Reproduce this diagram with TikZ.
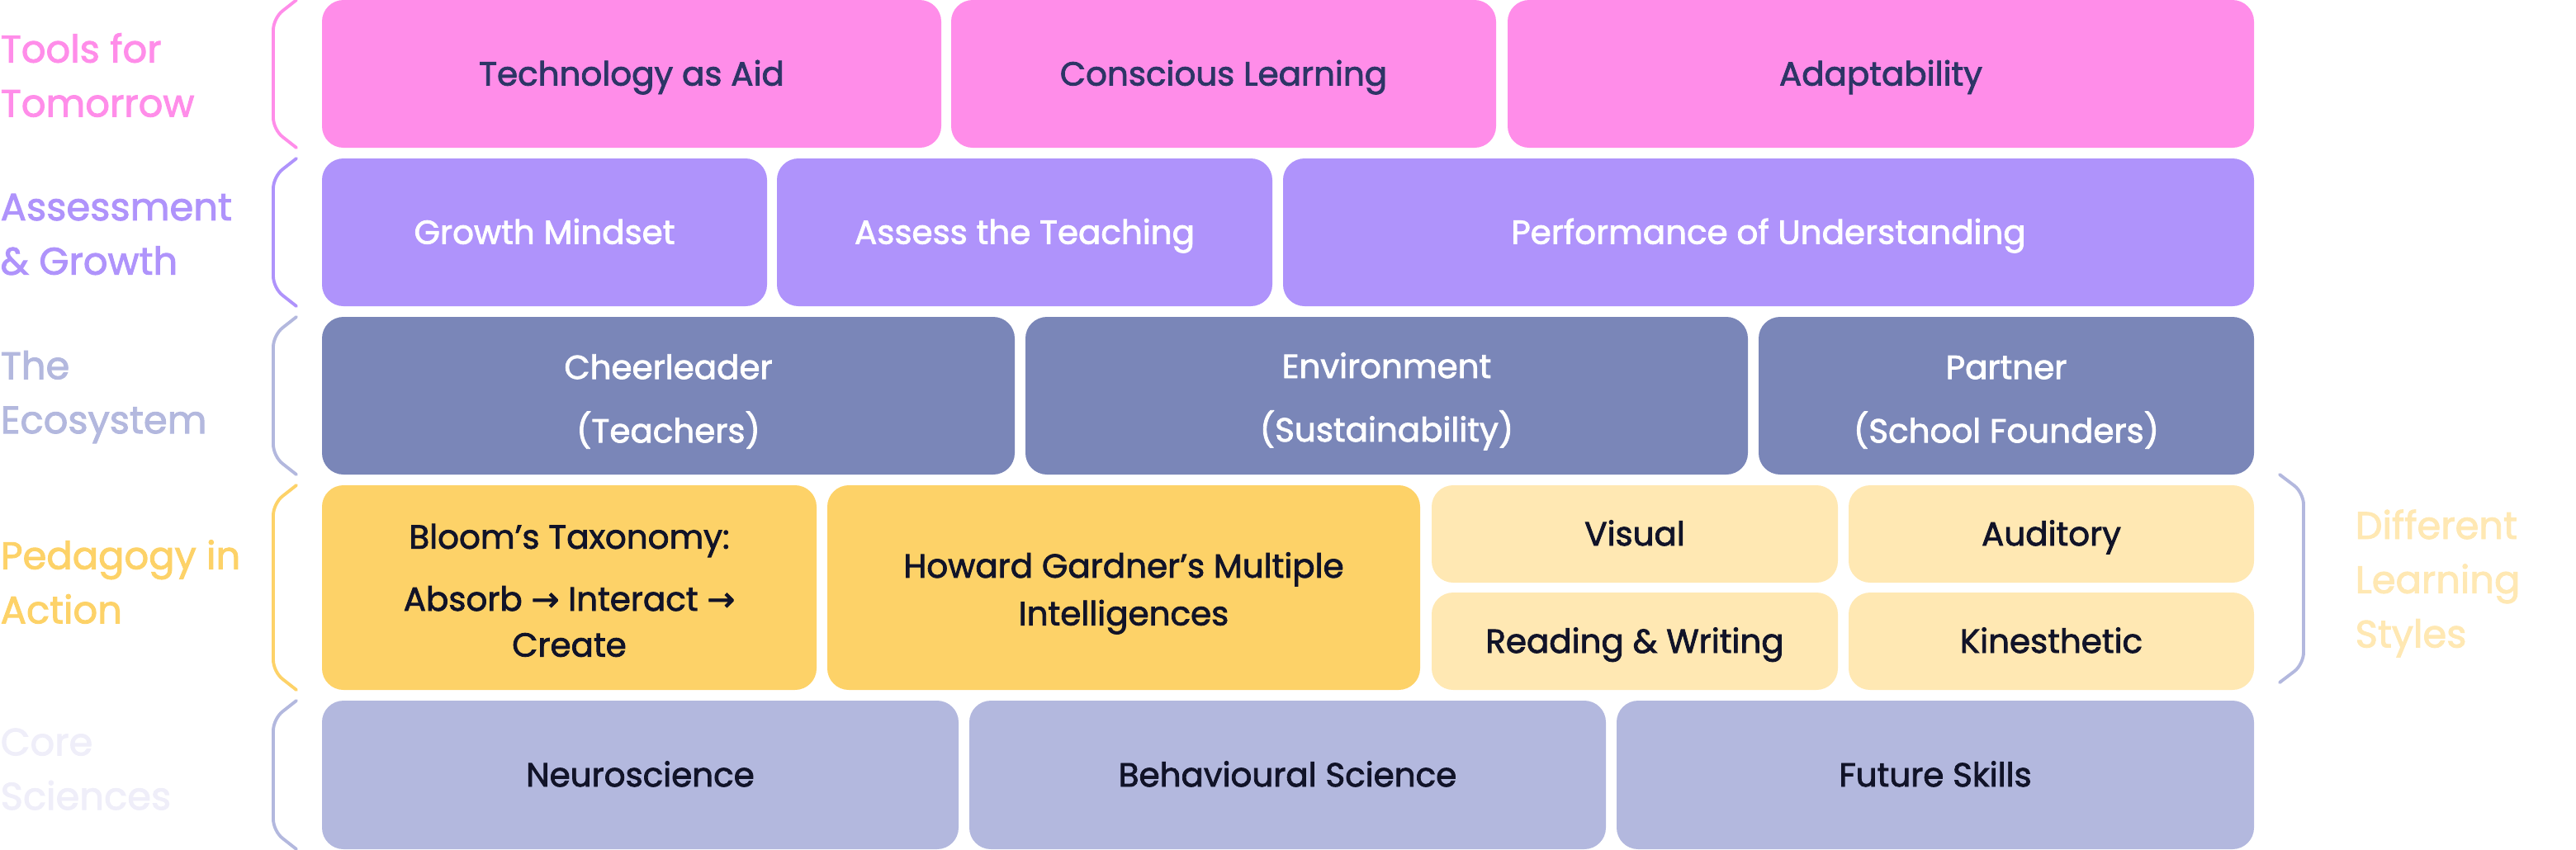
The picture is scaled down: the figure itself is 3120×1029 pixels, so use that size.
\documentclass[tikz,border=0pt]{standalone}
\usepackage{fontspec}
\setmainfont{Poppins}[FakeBold=2]
\newfontfamily\arrowfont{DejaVu Sans}[FakeBold=2]
\usepackage{xcolor}
\definecolor{toolpink}{HTML}{FF8DE9}
\definecolor{growthpurple}{HTML}{AF93FB}
\definecolor{ecoslate}{HTML}{7A86B8}
\definecolor{pedgold}{HTML}{FDD268}
\definecolor{stylecream}{HTML}{FFE8B3}
\definecolor{corelilac}{HTML}{B3B8DE}
\definecolor{corefaint}{HTML}{EFEEF9}
\definecolor{inknavy}{HTML}{2D3566}
\definecolor{inkdark}{HTML}{111328}
\newcommand{\tile}[7][]{% [options]{name}{left}{top}{right}{bottom}{text}
  \node[tile,#1,minimum width={(#5-#3)*0.01cm},minimum height={(#6-#4)*0.01cm}]
    (#2) at ({(#3+#5)/2},{(#4+#6)/2}) {#7};
}
\newcommand{\rowbrace}[3]{% {colour}{top}{bottom}
  \draw[bracket,#1] (359,#2) -- (331,{#2+22}) -- (331,{#3-22}) -- (359,#3);
}
% strut for tiles with more than one line
\newcommand{\tstrut}{\rule[-0.2em]{0pt}{1.3em}}
\tikzset{
  tile/.style={rounded corners=0.26cm,inner sep=0pt,align=center,
    font=\fontsize{11.5}{16.4}\selectfont},
  oneline/.style={text height=1.0em,text depth=0.2em},
  sidelabel/.style={anchor=west,inner sep=0pt,align=left,
    font=\fontsize{13.2}{18.7}\selectfont},
  bracket/.style={line width=1.1pt,rounded corners=0.14cm,line cap=round}
}

\begin{document}
\begin{tikzpicture}[x=0.01cm,y=-0.01cm]
  \useasboundingbox (0,0) rectangle (3120,1029);

  % Tools for Tomorrow
  \rowbrace{toolpink}{0}{179}
  \node[sidelabel,text=toolpink] (toolslbl) at (0,91) {Tools for\\Tomorrow};
  \tile[oneline,fill=toolpink,text=inknavy]{techaid}{390}{0}{1140}{179}{Technology as Aid}
  \tile[oneline,fill=toolpink,text=inknavy]{conscious}{1152}{0}{1812}{179}{Conscious Learning}
  \tile[oneline,fill=toolpink,text=inknavy]{adapt}{1826}{0}{2730}{179}{Adaptability}

  % Assessment & Growth
  \rowbrace{growthpurple}{192}{371}
  \node[sidelabel,text=growthpurple] (growthlbl) at (0,284) {Assessment\\\& Growth};
  \tile[oneline,fill=growthpurple,text=white]{mindset}{390}{192}{929}{371}{Growth Mindset}
  \tile[oneline,fill=growthpurple,text=white]{assess}{941}{192}{1541}{371}{Assess the Teaching}
  \tile[oneline,fill=growthpurple,text=white]{perform}{1554}{192}{2730}{371}{Performance of Understanding}

  % The Ecosystem
  \rowbrace{corelilac}{384}{575}
  \node[sidelabel,text=corelilac] (ecolbl) at (0,481) {The\\Ecosystem};
  \tile[fill=ecoslate,text=white]{cheer}{390}{384}{1229}{575}{\tstrut Cheerleader\\[5.5pt](Teachers)\tstrut}
  \tile[fill=ecoslate,text=white]{environ}{1242}{384}{2117}{575}{\tstrut Environment\\[5.5pt](Sustainability)\tstrut}
  \tile[fill=ecoslate,text=white]{partner}{2130}{384}{2730}{575}{\tstrut Partner\\[5.5pt](School Founders)\tstrut}

  % Pedagogy in Action
  \rowbrace{pedgold}{588}{836}
  \node[sidelabel,text=pedgold] (pedlbl) at (0,705) {Pedagogy in\\Action};
  \tile[fill=pedgold,text=inkdark]{bloom}{390}{588}{989}{836}
    {\tstrut Bloom’s Taxonomy:\\[5pt]Absorb {\arrowfont →} Interact {\arrowfont →}\\[-0.6pt]Create\tstrut}
  \tile[fill=pedgold,text=inkdark]{gardner}{1002}{588}{1720}{836}
    {\tstrut Howard Gardner’s Multiple\\Intelligences\tstrut}
  \tile[oneline,fill=stylecream,text=inkdark]{visual}{1734}{588}{2226}{706}{Visual}
  \tile[oneline,fill=stylecream,text=inkdark]{auditory}{2239}{588}{2730}{706}{Auditory}
  \tile[oneline,fill=stylecream,text=inkdark]{readwrite}{1734}{718}{2226}{836}{Reading \& Writing}
  \tile[oneline,fill=stylecream,text=inkdark]{kinesthetic}{2239}{718}{2730}{836}{Kinesthetic}

  % Different Learning Styles (right side)
  \draw[bracket,corelilac] (2761,575) -- (2790,597) -- (2790,805) -- (2761,827);
  \node[sidelabel,text=stylecream] (styleslbl) at (2852,707) {Different\\Learning\\Styles};

  % Core Sciences
  \rowbrace{corelilac}{849}{1029}
  \node[sidelabel,text=corefaint] (corelbl) at (0,932) {Core\\Sciences};
  \tile[oneline,fill=corelilac,text=inkdark]{neuro}{390}{849}{1161}{1029}{Neuroscience}
  \tile[oneline,fill=corelilac,text=inkdark]{behave}{1174}{849}{1945}{1029}{Behavioural Science}
  \tile[oneline,fill=corelilac,text=inkdark]{future}{1958}{849}{2730}{1029}{Future Skills}
\end{tikzpicture}
\end{document}
